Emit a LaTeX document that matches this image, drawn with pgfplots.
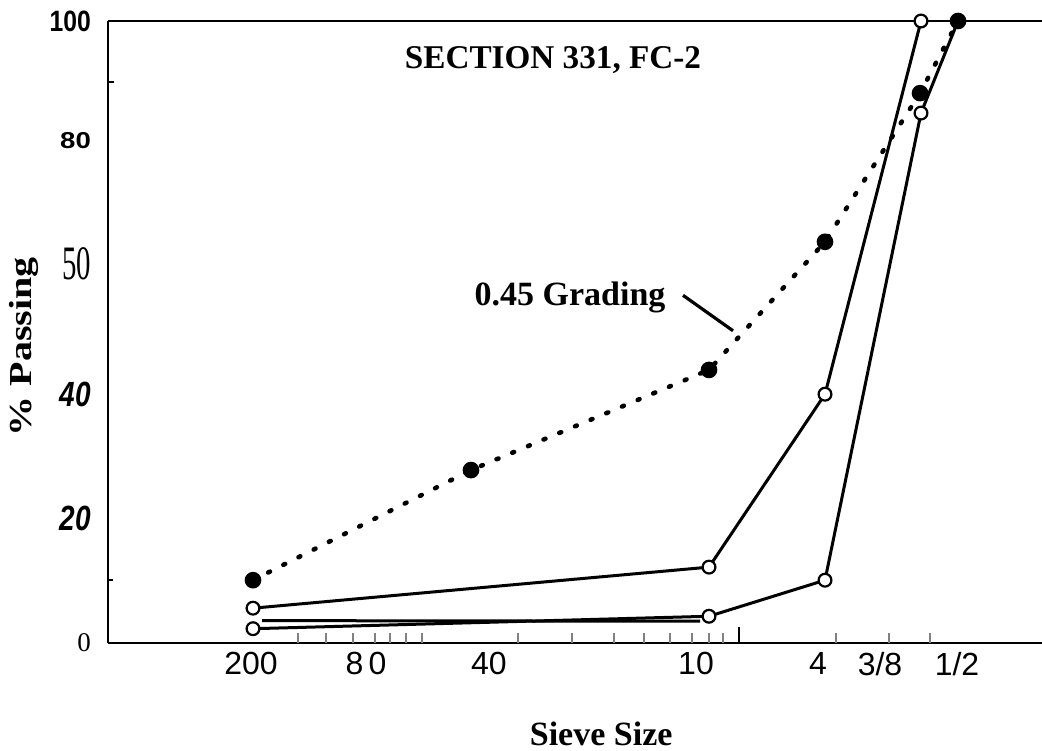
\documentclass[border=0pt]{standalone}
\usepackage{fontspec}
\setmainfont{Liberation Serif}
\setsansfont{Liberation Sans}
\usepackage{graphicx}
\usepackage{pgfplots}
\usepackage{pgfplotstable}
\pgfplotsset{compat=1.18}

% x is the position along the 0.45-power sieve scale (as drawn), y is % passing
\pgfplotstableread{
x y
253 10.1
471 27.8
709 43.9
825 64.5
920 88.4
958 100
}\gradA
\pgfplotstableread{
x y
253 5.6
709 12.2
825 40.0
921 100
}\gradB
\pgfplotstableread{
x y
253 2.3
709 4.3
825 10.1
921 85.2
958 100
}\gradC
\pgfplotstableread{
x y
262 3.6
700 3.5
}\gradD

\begin{document}
\begin{tikzpicture}
\path[use as bounding box] (-54pt,-53.5pt) rectangle (467pt,321.5pt);
\begin{axis}[
  scale only axis,
  width=467pt, height=311pt,
  xmin=108, xmax=1042,
  ymin=0, ymax=100,
  axis x line=box, axis y line=left,
  axis line style={line width=1.4pt,-},
  xtick pos=left,
  xtick={251,366,489,696,818,880,957},
  xticklabels={200,8\,0,40,10,4,3/8,1/2},
  xticklabel style={font=\sffamily\fontsize{16}{16}\selectfont, yshift=-1pt},
  major tick length=0pt,
  extra x ticks={298,326,353,375,390,406,422,518,572,614,644,670,692,709,723,836,889,930},
  extra x tick labels={},
  extra x tick style={major tick length=5pt, tick align=inside, tick style={line width=0.9pt}},
  ytick={0,20,40,61,80.8,100},
  yticklabels={
    {\rmfamily\fontsize{13.5}{13.5}\selectfont 0},
    {\scalebox{0.8}[1]{\sffamily\bfseries\itshape\fontsize{17.5}{17.5}\selectfont 20}},
    {\scalebox{0.8}[1]{\sffamily\bfseries\itshape\fontsize{17.5}{17.5}\selectfont 40}},
    {\scalebox{0.6}[1]{\rmfamily\fontsize{24}{24}\selectfont 50}},
    {\scalebox{1.2}[1]{\sffamily\bfseries\fontsize{11.5}{11.5}\selectfont 80}},
    {\scalebox{0.84}[1]{\sffamily\bfseries\fontsize{14.7}{14.7}\selectfont 100}}},
  yticklabel style={xshift=-5pt},
  ylabel={\scalebox{1.25}[1]{\bfseries\fontsize{16}{16}\selectfont \% Passing}},
  ylabel style={at={(axis description cs:-0.090,0.476)}, anchor=center},
  xlabel={\bfseries\fontsize{17}{17}\selectfont Sieve Size},
  xlabel style={at={(axis description cs:0.528,-0.146)}, anchor=center},
  clip=false,
]
\addplot[black, line width=1.5pt] table {\gradD};
\addplot[black, line width=1.5pt, mark=*, mark options={fill=white, line width=1.1pt}, mark size=3.2pt] table {\gradB};
\addplot[black, line width=1.5pt, mark=*, mark options={fill=white, line width=1.1pt}, mark size=3.2pt] table {\gradC};
\addplot[black, line width=2.3pt, line cap=round, dash pattern=on 1pt off 7.5pt, mark=*, mark size=3pt, mark options={solid, fill=black}] table {\gradA};

\node[font=\bfseries\fontsize{16.6}{16.6}\selectfont] at (axis cs:553,93.7) {SECTION 331, FC-2};
\node[font=\bfseries\fontsize{17}{17}\selectfont] at (axis cs:570,55.6) {0.45 Grading};
\draw[line width=1.6pt] (axis cs:683,55.9) -- (axis cs:733,50.2);
\draw[line width=1.2pt] (axis cs:108,90.2) -- ([xshift=3pt]axis cs:108,90.2);
\draw[line width=1.2pt] (axis cs:108,10.1) -- ([xshift=2.5pt]axis cs:108,10.1);
\draw[line width=1.2pt] (axis cs:739,0) -- ([yshift=8pt]axis cs:739,0);
\end{axis}
\end{tikzpicture}
\end{document}
